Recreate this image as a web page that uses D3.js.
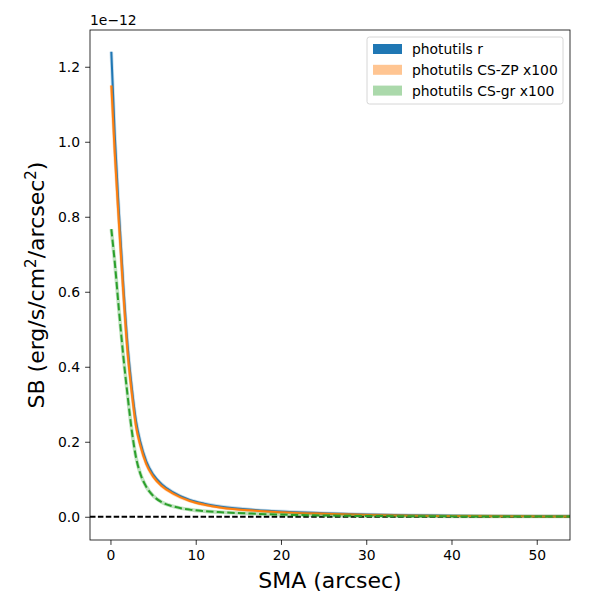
<!DOCTYPE html>
<html>
<head>
<meta charset="utf-8">
<script src="https://cdn.jsdelivr.net/npm/d3@7"></script>
<style>
  body { margin: 0; background: #fff; }
  text { font-family: "DejaVu Sans", sans-serif; }
</style>
</head>
<body>
<div id="chart"></div>
<script>
// surface brightness profiles, units of 1e-12 erg/s/cm2/arcsec2
var sma    = [0.1, 0.5, 1.0, 1.5, 2.0, 2.5, 3.0, 3.5, 4.2, 5.0, 6.0, 7.3, 9.3, 11, 13, 17, 21, 25, 30, 35, 40, 45, 50, 55];
var sbR    = [1.24, 1.02, 0.81, 0.62, 0.46, 0.345, 0.255, 0.2, 0.148, 0.113, 0.087, 0.066, 0.045, 0.035, 0.027, 0.018, 0.013, 0.0095, 0.006, 0.004, 0.0028, 0.002, 0.0015, 0.0012];
var sbZP   = [1.15, 0.97, 0.78, 0.60, 0.44, 0.33, 0.24, 0.19, 0.14, 0.107, 0.082, 0.062, 0.042, 0.032, 0.024, 0.016, 0.011, 0.008, 0.005, 0.003, 0.002, 0.0015, 0.001, 0.0008];
var sbGR   = [0.767, 0.68, 0.55, 0.43, 0.325, 0.23, 0.158, 0.115, 0.08, 0.056, 0.039, 0.028, 0.019, 0.015, 0.012, 0.008, 0.005, 0.0035, 0.002, 0.0015, 0.001, 0.0008, 0.0006, 0.0005];
var xTicks = [0, 10, 20, 30, 40, 50];
var yTicks = [0.0, 0.2, 0.4, 0.6, 0.8, 1.0, 1.2];
var legendLabels = ["photutils r", "photutils CS-ZP x100", "photutils CS-gr x100"];

var W = 600, H = 600;
var margin = {top: 30, right: 30, bottom: 60, left: 90},
    width = W - margin.left - margin.right,
    height = H - margin.top - margin.bottom;

var svg = d3.select("#chart").append("svg")
    .attr("width", W).attr("height", H);

var g = svg.append("g")
    .attr("transform", "translate(" + margin.left + "," + margin.top + ")");

var x = d3.scaleLinear().domain([-2.4, 53.9]).range([0, width]);
var y = d3.scaleLinear().domain([-0.062, 1.298]).range([height, 0]);

svg.append("defs").append("clipPath").attr("id", "clip")
    .append("rect").attr("width", width).attr("height", height);

var plot = g.append("g").attr("clip-path", "url(#clip)");

// zero line
plot.append("line")
    .attr("x1", 0).attr("x2", width)
    .attr("y1", y(0)).attr("y2", y(0))
    .attr("stroke", "#000").attr("stroke-width", 1.8)
    .attr("stroke-dasharray", "5.5,2.4");

function lineOf(vals) {
    return d3.line()
        .x(function(d, i) { return x(sma[i]); })
        .y(function(d) { return y(d); })
        .curve(d3.curveMonotoneX)(vals);
}

// r band
plot.append("path").attr("d", lineOf(sbR))
    .attr("fill", "none").attr("stroke", "#1f77b4").attr("stroke-opacity", 0.25).attr("stroke-width", 3.6);
plot.append("path").attr("d", lineOf(sbR))
    .attr("fill", "none").attr("stroke", "#1f77b4").attr("stroke-width", 2);

// CS-ZP
plot.append("path").attr("d", lineOf(sbZP))
    .attr("fill", "none").attr("stroke", "#ff7f0e").attr("stroke-opacity", 0.3).attr("stroke-width", 3.2);
plot.append("path").attr("d", lineOf(sbZP))
    .attr("fill", "none").attr("stroke", "#ff7f0e").attr("stroke-width", 2);

// CS-gr
plot.append("path").attr("d", lineOf(sbGR))
    .attr("fill", "none").attr("stroke", "#2ca02c").attr("stroke-opacity", 0.3).attr("stroke-width", 3.6);
plot.append("path").attr("d", lineOf(sbGR))
    .attr("fill", "none").attr("stroke", "#2ca02c").attr("stroke-width", 2)
    .attr("stroke-dasharray", "7.4,3.2");

// axes
var xAxis = g.append("g")
    .attr("transform", "translate(0," + height + ")")
    .call(d3.axisBottom(x).tickValues(xTicks).tickSize(4.9).tickPadding(5).tickFormat(d3.format("d")));
var yAxis = g.append("g")
    .call(d3.axisLeft(y).tickValues(yTicks).tickSize(4.9).tickPadding(5).tickFormat(d3.format(".1f")));

[xAxis, yAxis].forEach(function(a) {
    a.select(".domain").remove();
    a.selectAll("line").attr("stroke", "#000").attr("stroke-width", 0.8);
    a.selectAll("text").attr("font-size", "13.9px").attr("fill", "#000")
        .attr("font-family", "DejaVu Sans");
});

// frame
g.append("rect").attr("width", width).attr("height", height)
    .attr("fill", "none").attr("stroke", "#000").attr("stroke-width", 0.8);

// offset text
g.append("text").attr("x", 0).attr("y", -5)
    .attr("font-size", "13.9px").text("1e\u221212");

// axis labels
svg.append("text")
    .attr("x", margin.left + width / 2).attr("y", 588)
    .attr("text-anchor", "middle").attr("font-size", "22px")
    .text("SMA (arcsec)");

var yl = svg.append("text")
    .attr("transform", "translate(44," + (margin.top + height / 2) + ") rotate(-90)")
    .attr("text-anchor", "middle").attr("font-size", "22px");
yl.append("tspan").text("SB (erg/s/cm");
yl.append("tspan").attr("font-size", "15px").attr("dy", -8).text("2");
yl.append("tspan").attr("dy", 8).text("/arcsec");
yl.append("tspan").attr("font-size", "15px").attr("dy", -8).text("2");
yl.append("tspan").attr("dy", 8).text(")");

// legend
var legColors = [["#1f77b4", 1], ["#ff7f0e", 0.45], ["#2ca02c", 0.4]];
var leg = svg.append("g").attr("transform", "translate(367,37)");
leg.append("rect").attr("width", 196).attr("height", 67).attr("rx", 2.5)
    .attr("fill", "#fff").attr("fill-opacity", 0.8)
    .attr("stroke", "#ccc").attr("stroke-width", 0.8);
legendLabels.forEach(function(lbl, i) {
    var cy = 12 + i * 20.8;
    leg.append("rect").attr("x", 6).attr("y", cy - 5).attr("width", 29).attr("height", 10)
        .attr("fill", legColors[i][0]).attr("fill-opacity", legColors[i][1]);
    leg.append("text").attr("x", 45).attr("y", cy + 5)
        .attr("font-size", "13.9px").text(lbl);
});
</script>
</body>
</html>
